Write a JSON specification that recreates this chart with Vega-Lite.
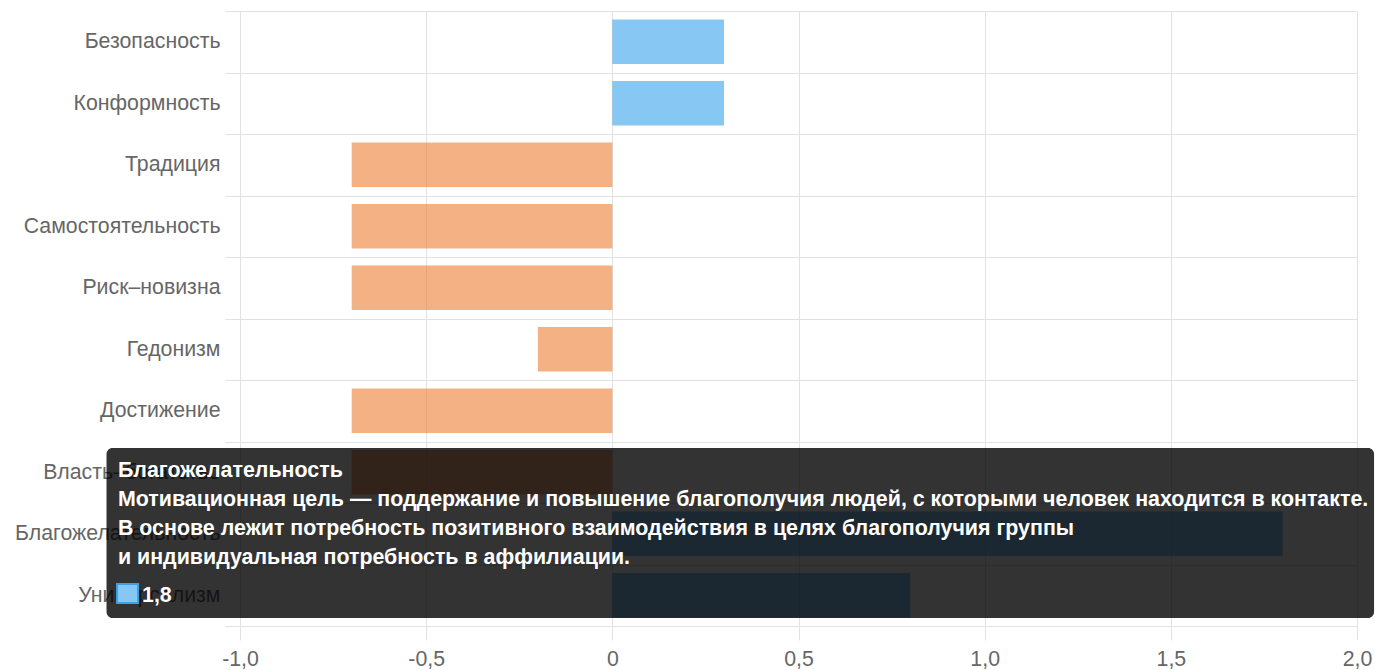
{
  "$schema": "https://vega.github.io/schema/vega-lite/v6.json",
  "autosize": {"type": "none"},
  "padding": {"left": 240, "top": 11, "right": 18, "bottom": 44},
  "width": 1117,
  "height": 615,
  "background": "white",
  "config": {"view": {"stroke": null}, "font": "Liberation Sans"},
  "datasets": {
    "values": [
      {"name": "Безопасность", "score": 0.3},
      {"name": "Конформность", "score": 0.3},
      {"name": "Традиция", "score": -0.7},
      {"name": "Самостоятельность", "score": -0.7},
      {"name": "Риск–новизна", "score": -0.7},
      {"name": "Гедонизм", "score": -0.2},
      {"name": "Достижение", "score": -0.7},
      {"name": "Власть–богатство", "score": -0.7},
      {"name": "Благожелательность", "score": 1.8},
      {"name": "Универсализм", "score": 0.8}
    ],
    "single": [{}]
  },
  "layer": [
    {
      "data": {"name": "values"},
      "mark": {"type": "bar", "height": {"band": 0.72}, "opacity": 0.6},
      "encoding": {
        "y": {
          "field": "name", "type": "nominal", "sort": null,
          "scale": {"paddingInner": 0, "paddingOuter": 0},
          "axis": {
            "title": null, "tickBand": "extent", "grid": true,
            "gridColor": "#e2e2e2", "domainColor": "#e2e2e2", "tickColor": "#e2e2e2",
            "tickSize": 15, "labelPadding": 5, "labelFontSize": 21.3,
            "labelColor": "#666666", "labelFont": "Liberation Sans", "labelLimit": 400
          }
        },
        "x": {
          "field": "score", "type": "quantitative",
          "scale": {"domain": [-1, 2], "nice": false},
          "axis": {
            "title": null, "values": [-1, -0.5, 0, 0.5, 1, 1.5, 2], "grid": true,
            "gridColor": "#e2e2e2", "domainColor": "#e2e2e2", "tickColor": "#e2e2e2",
            "tickSize": 14, "labelPadding": 8, "labelFontSize": 21.3,
            "labelColor": "#666666", "labelFont": "Liberation Sans",
            "labelFlush": false, "labelOverlap": false,
            "labelExpr": "datum.value == 0 ? '0' : (datum.value < 0 ? '-' : '') + replace(format(abs(datum.value), '.1f'), '.', ',')"
          }
        },
        "color": {
          "condition": {"test": "datum.score >= 0", "value": "#36A2EB"},
          "value": "#ED7D31"
        }
      }
    },
    {
      "data": {"name": "single"},
      "mark": {"type": "rect", "fill": "black", "fillOpacity": 0.8, "cornerRadius": 6},
      "encoding": {
        "x": {"datum": -1.3585, "type": "quantitative", "scale": {"domain": [-1, 2], "nice": false}},
        "x2": {"datum": 2.0458},
        "y": {"datum": 7.106, "type": "quantitative", "scale": {"domain": [0, 10], "reverse": true, "nice": false, "zero": false}, "axis": null},
        "y2": {"datum": 9.87}
      }
    },
    {
      "data": {"name": "single"},
      "mark": {
        "type": "text", "align": "left", "baseline": "alphabetic",
        "fontSize": 21.4, "fontWeight": "bold", "color": "white", "lineHeight": 29,
        "font": "Liberation Sans",
        "text": [
          "Благожелательность",
          "Мотивационная цель — поддержание и повышение благополучия людей, с которыми человек находится в контакте.",
          "В основе лежит потребность позитивного взаимодействия в целях благополучия группы",
          "и индивидуальная потребность в аффилиации."
        ]
      },
      "encoding": {
        "x": {"datum": -1.3278, "type": "quantitative", "scale": {"domain": [-1, 2], "nice": false}},
        "y": {"datum": 7.577, "type": "quantitative", "scale": {"domain": [0, 10], "reverse": true, "nice": false, "zero": false}, "axis": null}
      }
    },
    {
      "data": {"name": "single"},
      "mark": {"type": "rect", "fill": "#86C7F3", "stroke": "#36A2EB", "strokeWidth": 2},
      "encoding": {
        "x": {"datum": -1.3303, "type": "quantitative", "scale": {"domain": [-1, 2], "nice": false}},
        "x2": {"datum": -1.2739},
        "y": {"datum": 9.317, "type": "quantitative", "scale": {"domain": [0, 10], "reverse": true, "nice": false, "zero": false}, "axis": null},
        "y2": {"datum": 9.626}
      }
    },
    {
      "data": {"name": "single"},
      "mark": {
        "type": "text", "align": "left", "baseline": "alphabetic",
        "fontSize": 21.4, "fontWeight": "bold", "color": "white",
        "font": "Liberation Sans", "text": "1,8"
      },
      "encoding": {
        "x": {"datum": -1.2632, "type": "quantitative", "scale": {"domain": [-1, 2], "nice": false}},
        "y": {"datum": 9.605, "type": "quantitative", "scale": {"domain": [0, 10], "reverse": true, "nice": false, "zero": false}, "axis": null}
      }
    }
  ],
  "resolve": {"scale": {"y": "independent"}}
}
